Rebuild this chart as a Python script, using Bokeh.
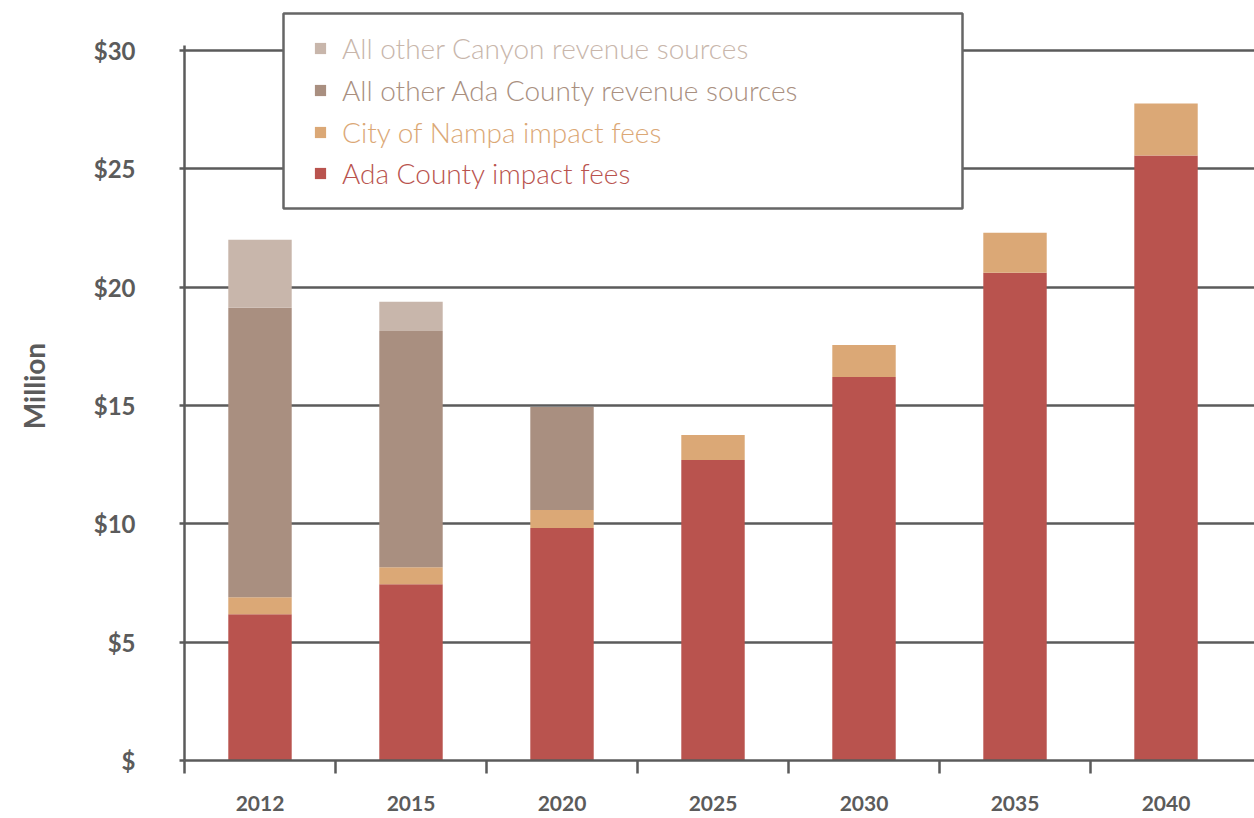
from bokeh.plotting import figure
from bokeh.models import ColumnDataSource, Range1d, FixedTicker, Legend, LegendItem, BoxAnnotation
from bokeh.embed import file_html
from bokeh.resources import INLINE

years = ["2012", "2015", "2020", "2025", "2030", "2035", "2040"]
ada_impact = [6.18, 7.45, 9.82, 12.70, 16.21, 20.61, 25.56]
nampa_impact = [0.72, 0.72, 0.76, 1.05, 1.35, 1.69, 2.20]
ada_other = [12.23, 9.98, 4.36, 0, 0, 0, 0]
canyon_other = [2.88, 1.23, 0, 0, 0, 0, 0]
y_ticks = [0, 5, 10, 15, 20, 25, 30]
y_labels = ["$", "$5", "$10", "$15", "$20", "$25", "$30"]

series = ["ada_impact", "nampa_impact", "ada_other", "canyon_other"]
names = ["Ada County impact fees", "City of Nampa impact fees",
         "All other Ada County revenue sources", "All other Canyon revenue sources"]
colors = ["#b9534e", "#dba876", "#a98f80", "#c8b6ab"]

xpos = [i + 0.5 for i in range(len(years))]
src = ColumnDataSource(dict(x=xpos, ada_impact=ada_impact, nampa_impact=nampa_impact,
                            ada_other=ada_other, canyon_other=canyon_other))

GRAY = "#5b5b5b"
FONT = "Lato"
LFONT = "'Lato Light', Lato"

p = figure(width=1254, height=818, output_backend="svg", toolbar_location=None,
           x_range=Range1d(0, 7.086), y_range=Range1d(0, 31.65),
           min_border_left=184, min_border_right=0, min_border_top=11, min_border_bottom=58)
p.outline_line_alpha = 0
p.xgrid.visible = False

rs = p.vbar_stack(series, x="x", width=0.42, color=colors, line_alpha=0, source=src)

# x axis
xa = p.xaxis[0]
xa.ticker = FixedTicker(ticks=xpos, minor_ticks=list(range(len(years))))
xa.major_label_overrides = {v: y for v, y in zip(xpos, years)}
xa.major_tick_out = 0
xa.major_tick_in = 0
xa.minor_tick_out = 13
xa.minor_tick_in = 0
xa.minor_tick_line_color = GRAY
xa.minor_tick_line_width = 2.5
xa.axis_line_color = GRAY
xa.axis_line_width = 2.5
xa.major_label_standoff = 22
xa.major_label_text_font = FONT
xa.major_label_text_font_style = "bold"
xa.major_label_text_font_size = "21px"
xa.major_label_text_color = GRAY

# y axis
ya = p.yaxis[0]
ya.ticker = FixedTicker(ticks=y_ticks, minor_ticks=[])
ya.major_label_overrides = {t: l for t, l in zip(y_ticks, y_labels)}
ya.bounds = (0, 30.2)
ya.major_tick_out = 5
ya.major_tick_in = 0
ya.major_tick_line_color = GRAY
ya.major_tick_line_width = 2.5
ya.axis_line_color = GRAY
ya.axis_line_width = 2.5
ya.major_label_standoff = 44
ya.major_label_text_font = FONT
ya.major_label_text_font_style = "bold"
ya.major_label_text_font_size = "24px"
ya.major_label_text_color = GRAY
ya.axis_label = "Million"
ya.axis_label_text_font = FONT
ya.axis_label_text_font_style = "bold"
ya.axis_label_text_font_size = "28px"
ya.axis_label_text_color = GRAY
ya.axis_label_standoff = 40

p.ygrid.grid_line_color = GRAY
p.ygrid.grid_line_width = 2.5

# legend box
box = BoxAnnotation(left=99, right=778, top=747, bottom=552,
                    left_units="screen", right_units="screen",
                    top_units="screen", bottom_units="screen",
                    fill_color="white", fill_alpha=1.0,
                    line_color="#666666", line_alpha=1.0, line_width=2.5)
p.add_layout(box)

bottoms = [570, 611, 653, 695]
for r, name, c, b in zip(rs, names, colors, bottoms):
    lg = Legend(items=[LegendItem(label=name, renderers=[r])], location=(129, b),
                border_line_alpha=0, background_fill_alpha=0, padding=0, margin=0,
                glyph_width=14, glyph_height=14, label_standoff=15,
                label_text_font=LFONT, label_text_font_size="28px",
                label_text_color=c)
    p.add_layout(lg, "center")

open("out.html", "w").write(file_html(p, INLINE))
